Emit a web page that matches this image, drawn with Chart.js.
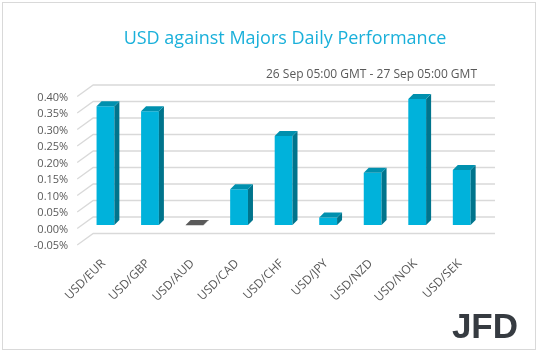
<!DOCTYPE html>
<html>
<head>
<meta charset="utf-8">
<script src="https://cdn.jsdelivr.net/npm/chart.js@4.4.0/dist/chart.umd.min.js"></script>
<style>
  html, body { margin: 0; padding: 0; background: #fff; }
  canvas { display: block; }
</style>
</head>
<body>
<canvas id="chart" width="538" height="351"></canvas>
<script>
const pairs = ['USD/EUR', 'USD/GBP', 'USD/AUD', 'USD/CAD', 'USD/CHF', 'USD/JPY', 'USD/NZD', 'USD/NOK', 'USD/SEK'];
const changePct = [0.360, 0.345, -0.001, 0.108, 0.270, 0.023, 0.158, 0.382, 0.167];
const yTicks = [-0.05, 0.00, 0.05, 0.10, 0.15, 0.20, 0.25, 0.30, 0.35, 0.40];

const titleText = 'USD against Majors Daily Performance';
const subtitleText = '26 Sep 05:00 GMT - 27 Sep 05:00 GMT';

const FRONT = '#00B2DB', SIDE = '#00748C', TOP = '#0090AE';
const NEG_FRONT = '#5a5a5a', NEG_SIDE = '#3f3f3f', NEG_TOP = '#5a5a5a';
const GRID = '#d9d9d9';
const DEPTH = { dx: 5, dy: -5 };

// back wall + left wall grid, Excel 3D style
const wallPlugin = {
  id: 'wall',
  beforeDraw(chart) {
    const ctx = chart.ctx;
    ctx.save();
    ctx.fillStyle = '#fff';
    ctx.fillRect(0, 0, chart.width, chart.height);
    ctx.strokeStyle = GRID;
    ctx.lineWidth = 1;
    ctx.strokeRect(2.5, 2.5, chart.width - 5, chart.height - 4);
    ctx.restore();
  },
  beforeDatasetsDraw(chart) {
    const { ctx, chartArea: a, scales: { y } } = chart;
    ctx.save();
    ctx.strokeStyle = GRID;
    ctx.lineWidth = 1.3;
    yTicks.forEach(v => {
      const py = y.getPixelForValue(v);
      ctx.beginPath();
      ctx.moveTo(a.left - 6, py + 3.5);
      ctx.lineTo(a.left + 10, py - 8);
      ctx.lineTo(a.right + 11, py - 8);
      ctx.stroke();
    });
    ctx.restore();
  },
  afterDatasetsDraw(chart) {
    const ctx = chart.ctx;
    const meta = chart.getDatasetMeta(0);
    ctx.save();
    meta.data.forEach((bar, i) => {
      const { x, y, base, width } = bar.getProps(['x', 'y', 'base', 'width'], true);
      const neg = changePct[i] < 0;
      const x0 = x - width / 2, x1 = x + width / 2;
      const top = Math.min(y, base), bot = Math.max(y, base);
      const { dx, dy } = DEPTH;
      // side
      ctx.fillStyle = neg ? NEG_SIDE : SIDE;
      ctx.beginPath();
      ctx.moveTo(x1, top);
      ctx.lineTo(x1 + dx, top + dy);
      ctx.lineTo(x1 + dx, bot + dy);
      ctx.lineTo(x1, bot);
      ctx.closePath();
      ctx.fill();
      // top
      ctx.fillStyle = neg ? NEG_TOP : TOP;
      ctx.beginPath();
      ctx.moveTo(x0, top);
      ctx.lineTo(x1, top);
      ctx.lineTo(x1 + dx, top + dy);
      ctx.lineTo(x0 + dx, top + dy);
      ctx.closePath();
      ctx.fill();
    });
    ctx.restore();
  },
  afterDraw(chart) {
    const ctx = chart.ctx;
    ctx.save();
    ctx.textBaseline = 'middle';
    ctx.fillStyle = '#1AB0DA';
    ctx.font = '18px "Open Sans"';
    ctx.textAlign = 'center';
    ctx.fillText(titleText, 285, 39);
    ctx.fillStyle = '#595959';
    ctx.font = '12px "Open Sans"';
    ctx.textAlign = 'right';
    ctx.fillText(subtitleText, 477, 75);
    // logo
    ctx.fillStyle = '#363b41';
    ctx.font = 'bold 35px "Liberation Sans"';
    ctx.textBaseline = 'alphabetic';
    ctx.fillText('JFD', 518, 338);
    ctx.restore();
  }
};

new Chart(document.getElementById('chart'), {
  type: 'bar',
  data: {
    labels: pairs,
    datasets: [{
      data: changePct,
      backgroundColor: changePct.map(v => v < 0 ? NEG_FRONT : FRONT),
      borderWidth: 0,
      barPercentage: 0.4,
      categoryPercentage: 1.0
    }]
  },
  options: {
    responsive: false,
    animation: false,
    devicePixelRatio: 1,
    layout: { padding: { top: 93, right: 54, left: 0, bottom: 0 } },
    plugins: { legend: { display: false }, tooltip: { enabled: false } },
    scales: {
      x: {
        grid: { display: false, drawTicks: false },
        border: { display: false },
        ticks: {
          color: '#595959',
          font: { family: 'Open Sans', size: 12 },
          minRotation: 45, maxRotation: 45,
          padding: 15,
          labelOffset: -2
        },
        afterFit(scale) { scale.height = 109.5; }
      },
      y: {
        min: -0.05, max: 0.40,
        grid: { display: false, drawTicks: false },
        border: { display: false },
        ticks: {
          stepSize: 0.05,
          color: '#595959',
          font: { family: 'Open Sans', size: 11 },
          padding: 15,
          labelOffset: 4.5,
          callback: v => v.toFixed(2) + '%'
        },
        afterFit(scale) { scale.width = 83.2; }
      }
    }
  },
  plugins: [wallPlugin]
});
</script>
</body>
</html>
